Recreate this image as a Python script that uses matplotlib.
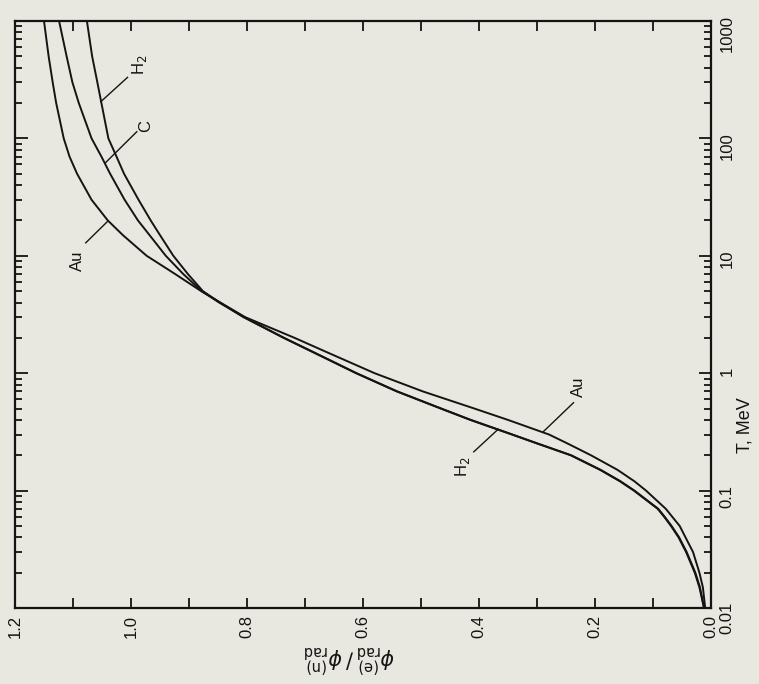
import matplotlib
matplotlib.use("Agg")
import matplotlib.pyplot as plt
from matplotlib.ticker import MultipleLocator, NullFormatter, FixedLocator

# kinetic energy T, MeV
T = [0.01, 0.015, 0.02, 0.03, 0.04, 0.05, 0.06, 0.07, 0.1, 0.12, 0.15, 0.2,
     0.25, 0.3, 0.4, 0.5, 0.7, 1, 1.5, 2, 3, 4, 5, 7, 10, 15, 20, 30, 50, 70,
     100, 200, 300, 500, 1000]

# ratio phi(e)rad / phi(n)rad
au = [0.010, 0.014, 0.020, 0.031, 0.044, 0.054, 0.067, 0.078, 0.112, 0.132,
      0.161, 0.207, 0.246, 0.279, 0.350, 0.408, 0.497, 0.580, 0.661, 0.718,
      0.803, 0.846, 0.879, 0.924, 0.973, 1.014, 1.040, 1.068, 1.093, 1.106,
      1.116, 1.129, 1.135, 1.142, 1.150]
c = [0.012, 0.019, 0.027, 0.042, 0.055, 0.068, 0.080, 0.091, 0.132, 0.156,
     0.190, 0.241, 0.297, 0.342, 0.414, 0.465, 0.541, 0.611, 0.684, 0.736,
     0.805, 0.848, 0.878, 0.910, 0.940, 0.968, 0.988, 1.011, 1.036, 1.051,
     1.068, 1.090, 1.101, 1.111, 1.124]
h2 = [0.012, 0.020, 0.028, 0.043, 0.056, 0.069, 0.081, 0.092, 0.133, 0.157,
      0.191, 0.242, 0.298, 0.343, 0.415, 0.466, 0.542, 0.612, 0.685, 0.737,
      0.806, 0.847, 0.876, 0.902, 0.927, 0.950, 0.966, 0.987, 1.012, 1.025,
      1.039, 1.051, 1.058, 1.067, 1.076]

ratio_ticks = [1.2, 1.0, 0.8, 0.6, 0.4, 0.2, 0.0]
t_ticks = [0.01, 0.1, 1, 10, 100, 1000]
t_labels = ["0.01", "0.1", "1", "10", "100", "1000"]

paper = "#e8e8e0"
ink = "#141414"

plt.rcParams['font.family'] = ['Liberation Sans', 'DejaVu Sans']
plt.rcParams['mathtext.fontset'] = 'dejavusans'

fig = plt.figure(figsize=(7.59, 6.84), dpi=100, facecolor=paper)
ax = fig.add_axes([15/759, 76/684, 696/759, 587/684])
ax.set_facecolor(paper)

# the page is turned: ratio runs right-to-left, energy runs upward
for vals in (au, c, h2):
    ax.plot(vals, T, color=ink, lw=1.4, solid_capstyle='round')

ax.set_yscale('log')
ax.set_xlim(1.2, 0.0)
ax.set_ylim(0.01, 1000)

ax.xaxis.set_major_locator(FixedLocator(ratio_ticks))
ax.set_xticklabels(['%.1f' % v for v in ratio_ticks])
ax.xaxis.set_minor_locator(MultipleLocator(0.1))
ax.set_yticks(t_ticks)
ax.set_yticklabels(t_labels)
ax.yaxis.set_minor_formatter(NullFormatter())

ax.tick_params(which='both', direction='in', top=True, bottom=True,
               left=True, right=True, color=ink, width=1.3)
ax.tick_params(axis='x', which='both', length=7, labelrotation=90,
               labelsize=12, pad=5, labelcolor=ink)
ax.tick_params(axis='y', which='major', length=9)
ax.tick_params(axis='y', which='minor', length=5)
ax.tick_params(axis='y', labelleft=False, labelright=True, labelrotation=90,
               labelsize=12, pad=6, labelcolor=ink)
for s in ax.spines.values():
    s.set_linewidth(1.6)
    s.set_color(ink)

ax.text(1.049, 0.312, 'T, MeV', transform=ax.transAxes, rotation=90,
        ha='center', va='center', fontsize=13, color=ink)
ax.text(0.481, -0.085,
        r'$\phi^{\mathrm{(e)}}_{\mathrm{rad}}\,/\,\phi^{\mathrm{(n)}}_{\mathrm{rad}}$',
        transform=ax.transAxes, rotation=180, ha='center', va='center',
        fontsize=15, color=ink)

# curve labels with leader lines
labels = [
    ('H$_2$', (1.052, 205.6), (1.006, 331), (0.986, 420)),
    ('C', (1.045, 61.4), (0.990, 114), (0.974, 128)),
    ('Au', (1.041, 19.5), (1.078, 12.9), (1.092, 9.0)),
    ('Au', (0.289, 0.318), (0.237, 0.561), (0.228, 0.76)),
    ('H$_2$', (0.367, 0.333), (0.409, 0.214), (0.428, 0.16)),
]
for name, p0, p1, pt in labels:
    ax.plot([p0[0], p1[0]], [p0[1], p1[1]], color=ink, lw=1.0)
    ax.text(pt[0], pt[1], name, rotation=90, ha='center', va='center',
            fontsize=12, color=ink)

fig.savefig('out.png', dpi=100, facecolor=paper)
